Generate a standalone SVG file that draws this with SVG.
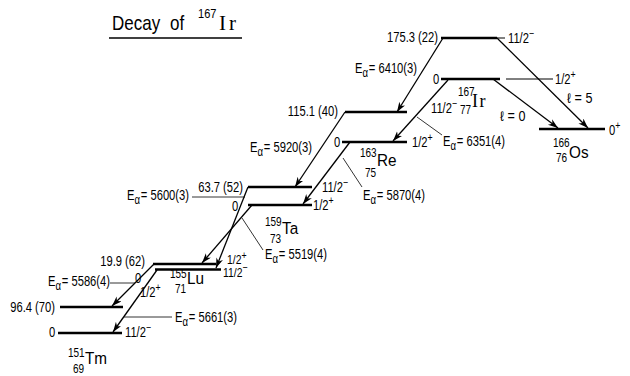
<svg xmlns="http://www.w3.org/2000/svg" width="630" height="376" viewBox="0 0 630 376">
<style>
text{font-family:"Liberation Sans",Arial,sans-serif;fill:#000}
.t{font-size:14px}
.sym{font-size:17px}
.iso{font-size:12.5px}
.ser{font-family:"Liberation Serif","Times New Roman",serif}
.lev{stroke:#000;stroke-width:2.6;fill:none}
.thin{stroke:#000;stroke-width:1;fill:none}
.arr{stroke:#000;stroke-width:1.3;fill:none;marker-end:url(#ah)}
.ld{stroke:#000;stroke-width:0.8;fill:none}
</style>
<defs>
<marker id="ah" markerUnits="userSpaceOnUse" markerWidth="12" markerHeight="8" refX="10" refY="3.5" orient="auto">
<path d="M0,0 L10,3.5 L0,7 L3,3.5 Z" fill="#000"/>
</marker>
</defs>
<rect width="630" height="376" fill="#fff"/>

<g id="title">
<text transform="translate(112,30) scale(.85,1)" style="font-size:20px">Decay</text>
<text transform="translate(170,30) scale(.85,1)" style="font-size:20px">of</text>
<text transform="translate(198,18) scale(.85,1)" style="font-size:13px">167</text>
<text class="ser" x="219" y="30" style="font-size:21px;letter-spacing:3px">Ir</text>
<line x1="109" y1="38" x2="242" y2="38" stroke="#000" stroke-width="1.5"/>
</g>

<g id="Ir167">
<line class="lev" x1="441" y1="38" x2="497" y2="38"/>
<line class="thin" x1="497" y1="38" x2="505" y2="38"/>
<line class="lev" x1="441" y1="79" x2="500" y2="79"/>
<line class="thin" x1="506" y1="79" x2="553" y2="79"/>
<text class="t" text-anchor="end" transform="translate(438,42) scale(.8,1)">175.3 (22)</text>
<text class="t" transform="translate(508,43) scale(.8,1)">11/2<tspan dy="-6" font-size="11">−</tspan></text>
<text class="t" transform="translate(433,84) scale(.8,1)">0</text>
<text class="t" transform="translate(555,84) scale(.8,1)">1/2<tspan dy="-6" font-size="11">+</tspan></text>
<text class="t" transform="translate(431,113) scale(.8,1)">11/2<tspan dy="-6" font-size="11">−</tspan></text>
<text class="iso" transform="translate(458,96) scale(.8,1)">167</text>
<text class="iso" transform="translate(460,114) scale(.8,1)">77</text>
<text class="ser" x="472" y="107" style="font-size:18px;letter-spacing:1.5px">Ir</text>
</g>

<g id="Os166">
<line class="lev" x1="539" y1="129" x2="605" y2="129"/>
<text class="t" transform="translate(609,135) scale(.8,1)">0<tspan dy="-6" font-size="11">+</tspan></text>
<text class="iso" transform="translate(553,147) scale(.8,1)">166</text>
<text class="iso" transform="translate(556,162) scale(.8,1)">76</text>
<text class="sym" transform="translate(569,158) scale(.9,1)">Os</text>
<text class="t" transform="translate(567,103) scale(.9,1)">ℓ = 5</text>
<text class="t" transform="translate(500,121) scale(.9,1)">ℓ = 0</text>
</g>

<g id="Re163">
<line class="lev" x1="345" y1="112" x2="407" y2="112"/>
<line class="lev" x1="342" y1="142" x2="407" y2="142"/>
<text class="t" text-anchor="end" transform="translate(338,116) scale(.8,1)">115.1 (40)</text>
<text class="t" transform="translate(334,147) scale(.8,1)">0</text>
<text class="t" transform="translate(412,147) scale(.8,1)">1/2<tspan dy="-6" font-size="11">+</tspan></text>
<text class="iso" transform="translate(360,157) scale(.8,1)">163</text>
<text class="iso" transform="translate(365,177) scale(.8,1)">75</text>
<text class="sym" transform="translate(377,166) scale(.9,1)">Re</text>
</g>

<g id="Ta159">
<line class="lev" x1="248" y1="187" x2="312" y2="187"/>
<line class="lev" x1="248" y1="205" x2="312" y2="205"/>
<text class="t" text-anchor="end" transform="translate(243,192) scale(.8,1)">63.7 (52)</text>
<text class="t" transform="translate(232,211) scale(.8,1)">0</text>
<text class="t" transform="translate(322,192) scale(.8,1)">11/2<tspan dy="-6" font-size="11">−</tspan></text>
<text class="t" transform="translate(313,210) scale(.8,1)">1/2<tspan dy="-6" font-size="11">+</tspan></text>
<text class="iso" transform="translate(265,226) scale(.8,1)">159</text>
<text class="iso" transform="translate(270,243) scale(.8,1)">73</text>
<text class="sym" transform="translate(282,234) scale(.9,1)">Ta</text>
</g>

<g id="Lu155">
<line class="lev" x1="153" y1="264" x2="216" y2="264"/>
<line class="lev" x1="155" y1="269.5" x2="221" y2="269.5"/>
<text class="t" text-anchor="end" transform="translate(145,266) scale(.8,1)">19.9 (62)</text>
<text class="t" transform="translate(135,283) scale(.8,1)">0</text>
<text class="t" transform="translate(227,264) scale(.8,1)" style="font-size:13px">1/2<tspan dy="-5" font-size="11">+</tspan></text>
<text class="t" transform="translate(223,277) scale(.8,1)" style="font-size:13px">11/2<tspan dy="-6" font-size="11">−</tspan></text>
<text class="iso" transform="translate(170,278) scale(.8,1)">155</text>
<text class="iso" transform="translate(175,293) scale(.8,1)">71</text>
<text class="sym" transform="translate(187,284) scale(.9,1)">Lu</text>
<text class="t" transform="translate(140,297) scale(.8,1)">1/2<tspan dy="-6" font-size="11">+</tspan></text>
</g>

<g id="Tm151">
<line class="lev" x1="60" y1="307" x2="123" y2="307"/>
<line class="lev" x1="58" y1="333" x2="122" y2="333"/>
<text class="t" text-anchor="end" transform="translate(55,312) scale(.8,1)">96.4 (70)</text>
<text class="t" transform="translate(49,337) scale(.8,1)">0</text>
<text class="t" transform="translate(125,337) scale(.8,1)">11/2<tspan dy="-6" font-size="11">−</tspan></text>
<text class="iso" transform="translate(68,357) scale(.8,1)">151</text>
<text class="iso" transform="translate(73,373) scale(.8,1)">69</text>
<text class="sym" transform="translate(85,364) scale(.9,1)">Tm</text>
</g>

<g id="connectors">
<line class="arr" x1="443" y1="38" x2="397" y2="112"/>
<line class="arr" x1="497" y1="38" x2="588" y2="128"/>
<line class="arr" x1="493" y1="79" x2="558" y2="128"/>
<line class="arr" x1="448" y1="80" x2="393" y2="141"/>
<line class="arr" x1="345" y1="112" x2="295" y2="187"/>
<line class="arr" x1="350" y1="142" x2="303" y2="204"/>
<line class="arr" x1="248" y1="187" x2="216" y2="268"/>
<line class="arr" x1="252" y1="205" x2="202" y2="263"/>
<line class="arr" x1="154" y1="264" x2="112" y2="306"/>
<line class="arr" x1="157" y1="270" x2="113" y2="332"/>
</g>

<g id="alpha-labels">
<text class="t" transform="translate(355,73) scale(.8,1)">E<tspan dy="4" font-size="12">α</tspan><tspan dy="-4" dx="1">= 6410(3)</tspan></text>
<line class="ld" x1="417" y1="117" x2="442" y2="135"/>
<text class="t" transform="translate(443,146) scale(.8,1)">E<tspan dy="4" font-size="12">α</tspan><tspan dy="-4" dx="1">= 6351(4)</tspan></text>
<text class="t" transform="translate(250,152) scale(.8,1)">E<tspan dy="4" font-size="12">α</tspan><tspan dy="-4" dx="1">= 5920(3)</tspan></text>
<line class="ld" x1="343" y1="158" x2="362" y2="187"/>
<text class="t" transform="translate(363,200) scale(.8,1)">E<tspan dy="4" font-size="12">α</tspan><tspan dy="-4" dx="1">= 5870(4)</tspan></text>
<line class="ld" x1="192" y1="197" x2="245" y2="197"/>
<text class="t" transform="translate(127,200) scale(.8,1)">E<tspan dy="4" font-size="12">α</tspan><tspan dy="-4" dx="1">= 5600(3)</tspan></text>
<line class="ld" x1="242" y1="218" x2="263" y2="250"/>
<text class="t" transform="translate(265,259) scale(.8,1)">E<tspan dy="4" font-size="12">α</tspan><tspan dy="-4" dx="1">= 5519(4)</tspan></text>
<line class="ld" x1="110" y1="283" x2="135" y2="283"/>
<text class="t" transform="translate(48,286) scale(.8,1)">E<tspan dy="4" font-size="12">α</tspan><tspan dy="-4" dx="1">= 5586(4)</tspan></text>
<line class="ld" x1="124" y1="317" x2="172" y2="317"/>
<text class="t" transform="translate(175,322) scale(.8,1)">E<tspan dy="4" font-size="12">α</tspan><tspan dy="-4" dx="1">= 5661(3)</tspan></text>
</g>
</svg>
